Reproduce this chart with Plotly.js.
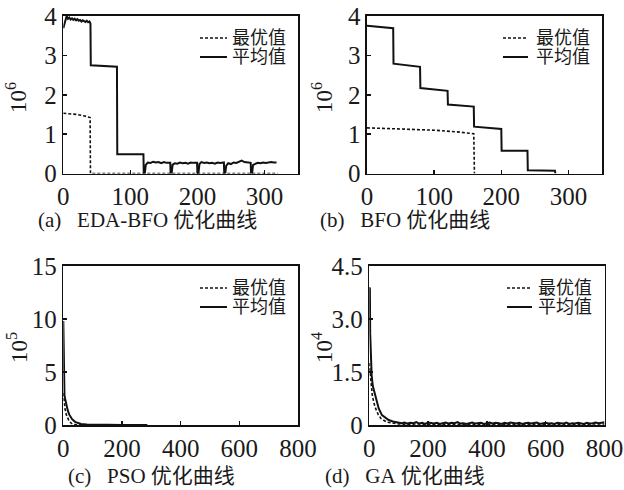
<!DOCTYPE html>
<html>
<head>
<meta charset="utf-8">
<script src="https://cdn.plot.ly/plotly-3.0.1.min.js"></script>
<style>html,body{margin:0;padding:0;background:#fff;}#chart{width:624px;height:490px;}</style>
</head>
<body>
<div id="chart"></div>
<script>
// ---------- data ----------
const seriesNames = ['最优值', '平均值'];
const captions = ['(a)\u00a0\u00a0 EDA-BFO\u00a0优化曲线', '(b)\u00a0\u00a0 BFO\u00a0优化曲线', '(c)\u00a0\u00a0 PSO\u00a0优化曲线', '(d)\u00a0\u00a0 GA\u00a0优化曲线'];
const yUnits = ['10<sup>6</sup>', '10<sup>6</sup>', '10<sup>5</sup>', '10<sup>4</sup>'];

// (a) EDA-BFO
const aMeanX = [0,2,5,7,9,11,13,15,17,19,21,23,25,27,29,31,33,35,37,39,40.5,41,60,80,80.5,119.5,120,121.5,123,126,130,134,138,142,146,150,154,158,159.5,160,161.5,163,166,170,174,178,182,186,190,194,198,199.5,200,201.5,203,206,210,214,218,222,226,230,234,238,239.5,240,241.5,243,246,250,254,258,262,266,270,274,278,279.5,280,281.5,283,286,290,294,298,302,306,310,314,318];
const aMeanY = [3.69,3.85,4.0,3.93,3.96,3.91,3.94,3.9,3.93,3.89,3.92,3.88,3.9,3.86,3.89,3.87,3.85,3.88,3.84,3.86,3.81,2.75,2.73,2.71,0.49,0.49,0.0,0.0,0.22,0.28,0.27,0.3,0.28,0.29,0.26,0.29,0.27,0.28,0.27,0.0,0.0,0.22,0.26,0.25,0.28,0.26,0.27,0.25,0.28,0.27,0.26,0.27,0.0,0.0,0.24,0.29,0.27,0.28,0.26,0.27,0.25,0.28,0.27,0.29,0.28,0.0,0.0,0.2,0.26,0.24,0.28,0.27,0.3,0.33,0.29,0.28,0.27,0.27,0.0,0.0,0.22,0.25,0.27,0.26,0.28,0.27,0.28,0.29,0.28,0.28];
const aBestX = [0,10,20,32,40,40.5,320];
const aBestY = [1.53,1.52,1.5,1.46,1.42,0,0];

// (b) BFO
const bMeanX = [0,39,39.5,79,79.5,120,120.5,159,159.5,200,200.5,239,239.5,280,280.5];
const bMeanY = [3.75,3.69,2.79,2.71,2.17,2.1,1.75,1.7,1.19,1.13,0.58,0.58,0.08,0.07,0];
const bBestX = [0,50,100,139,159,160];
const bBestY = [1.16,1.13,1.1,1.05,1.01,0];

// (c) PSO
const cMeanX = [0,1,2,4,6,10,15,20,25,30,40,50,60,80,100,150,200,286];
const cMeanY = [9.8,6.0,3.5,2.8,2.5,1.9,1.4,1.0,0.75,0.55,0.3,0.18,0.1,0.05,0.03,0.02,0.01,0.01];
const cBestX = [0,3,6,10,15,20,28,35,50,100,286];
const cBestY = [3.0,2.0,1.5,1.0,0.6,0.35,0.15,0.05,0.02,0.01,0.01];

// (d) GA
const dMeanX = [0,2,3,5,8,12,20,32,43,55,66,80,90,100,110,120,130,140,150,160,170,180,190,200,210,220,230,240,250,260,270,280,290,300,310,320,330,340,350,360,370,380,390,400,410,420,430,440,450,460,470,480,490,500,510,520,530,540,550,560,570,580,590,600,610,620,630,640,650,660,670,680,690,700,710,720,730,740,750,760,770,780,790,800];
const dMeanY = [3.9,3.85,2.6,1.8,1.4,1.1,0.85,0.47,0.28,0.2,0.14,0.1,0.09,0.08,0.05,0.07,0.04,0.06,0.05,0.08,0.04,0.06,0.03,0.07,0.05,0.04,0.06,0.03,0.05,0.07,0.04,0.06,0.05,0.08,0.04,0.05,0.03,0.06,0.07,0.04,0.05,0.06,0.03,0.05,0.07,0.04,0.06,0.05,0.03,0.06,0.04,0.07,0.05,0.04,0.06,0.03,0.05,0.06,0.04,0.05,0.07,0.03,0.05,0.06,0.04,0.05,0.03,0.06,0.05,0.04,0.07,0.03,0.05,0.04,0.06,0.05,0.03,0.06,0.04,0.05,0.07,0.05,0.06,0.08];
const dBestX = [0,3,6,10,15,20,30,40,60,80,100,130,160,200,240,280,320,360,400,440,480,520,560,600,640,680,720,760,800];
const dBestY = [1.75,1.4,1.1,0.85,0.65,0.5,0.3,0.18,0.08,0.05,0.03,0.02,0.03,0.02,0.03,0.02,0.02,0.03,0.02,0.02,0.03,0.02,0.02,0.03,0.02,0.02,0.03,0.02,0.03];

// ---------- layout helpers ----------
const W = 624, H = 490;
const px = v => v / W;
const py = v => 1 - v / H;

const serif = "'Liberation Serif', 'Noto Sans CJK SC', serif";
const txtColor = '#1a1a1a';

const panels = [
  {mx:aMeanX, my:aMeanY, bx:aBestX, by:aBestY, xd:[63.3,298], yd:[16,173.5], xr:[0,350], xt:[0,100,200,300], yr:[0,4], yt:[0,1,2,3,4], ytt:['0','1','2','3','4'],
   leg:{lx:[200,227], tx:230, y:[38,57]}, unit:{x:17,y:98}, cap:{x:147,y:220}},
  {mx:bMeanX, my:bMeanY, bx:bBestX, by:bBestY, xd:[367,602], yd:[16,173.5], xr:[0,350], xt:[0,100,200,300], yr:[0,4], yt:[0,1,2,3,4], ytt:['0','1','2','3','4'],
   leg:{lx:[503,528], tx:534, y:[38,57]}, unit:{x:323,y:98}, cap:{x:405,y:220}},
  {mx:cMeanX, my:cMeanY, bx:cBestX, by:cBestY, xd:[63.3,298], yd:[266,425], xr:[0,800], xt:[0,200,400,600,800], yr:[0,15], yt:[0,5,10,15], ytt:['0','5','10','15'],
   leg:{lx:[200,227], tx:230, y:[288,307]}, unit:{x:17,y:348}, cap:{x:151,y:476}},
  {mx:dMeanX, my:dMeanY, bx:dBestX, by:dBestY, xd:[369.3,604.5], yd:[266,425], xr:[0,800], xt:[0,200,400,600,800], yr:[0,4.5], yt:[0,1.5,3,4.5], ytt:['0','1.5','3.0','4.5'],
   leg:{lx:[507,532], tx:536, y:[288,307]}, unit:{x:322,y:348}, cap:{x:405,y:476}}
];

const traces = [];
const layout = {
  width: W, height: H,
  margin: {l:0, r:0, t:0, b:0},
  paper_bgcolor: '#fff', plot_bgcolor: '#fff',
  showlegend: false,
  font: {family: serif, color: txtColor},
  shapes: [], annotations: []
};

panels.forEach((p, i) => {
  const n = i === 0 ? '' : String(i + 1);
  const xa = 'x' + n, ya = 'y' + n;
  traces.push({x: p.bx, y: p.by, xaxis: xa, yaxis: ya, name: seriesNames[0], mode: 'lines',
    line: {color: '#111', width: 1.6, dash: '3px,2px'}, hoverinfo: 'skip'});
  traces.push({x: p.mx, y: p.my, xaxis: xa, yaxis: ya, name: seriesNames[1], mode: 'lines',
    line: {color: '#111', width: 2}, hoverinfo: 'skip'});
  const axCommon = {showline: true, mirror: true, linecolor: '#111', linewidth: 1.6, showgrid: false, zeroline: false,
    ticks: 'inside', ticklen: 4, tickwidth: 1.5, tickcolor: '#111', tickfont: {family: serif, size: 25, color: txtColor}, fixedrange: true};
  layout['xaxis' + n] = Object.assign({}, axCommon, {domain: [px(p.xd[0]), px(p.xd[1])], range: p.xr, tickmode: 'array', tickvals: p.xt, ticktext: p.xt.map(String), anchor: ya});
  layout['yaxis' + n] = Object.assign({}, axCommon, {domain: [py(p.yd[1]), py(p.yd[0])], range: p.yr, tickmode: 'array', tickvals: p.yt, ticktext: p.ytt, anchor: xa});
  // legend samples
  layout.shapes.push({type: 'line', xref: 'paper', yref: 'paper', x0: px(p.leg.lx[0]), x1: px(p.leg.lx[1]), y0: py(p.leg.y[0]), y1: py(p.leg.y[0]),
    line: {color: '#111', width: 1.6, dash: '3px,2px'}});
  layout.shapes.push({type: 'line', xref: 'paper', yref: 'paper', x0: px(p.leg.lx[0]), x1: px(p.leg.lx[1]), y0: py(p.leg.y[1]), y1: py(p.leg.y[1]),
    line: {color: '#111', width: 2}});
  seriesNames.forEach((s, k) => {
    layout.annotations.push({xref: 'paper', yref: 'paper', x: px(p.leg.tx), y: py(p.leg.y[k]), xanchor: 'left', yanchor: 'middle',
      text: s, showarrow: false, font: {family: serif, size: 18, color: txtColor}});
  });
  // unit label
  layout.annotations.push({xref: 'paper', yref: 'paper', x: px(p.unit.x), y: py(p.unit.y), xanchor: 'center', yanchor: 'middle',
    text: yUnits[i], textangle: -90, showarrow: false, font: {family: serif, size: 23, color: txtColor}});
  // caption
  layout.annotations.push({xref: 'paper', yref: 'paper', x: px(p.cap.x), y: py(p.cap.y), xanchor: 'center', yanchor: 'middle',
    text: captions[i], showarrow: false, font: {family: serif, size: 21, color: txtColor}});
});

Plotly.newPlot('chart', traces, layout, {staticPlot: true, displayModeBar: false});
</script>
</body>
</html>
